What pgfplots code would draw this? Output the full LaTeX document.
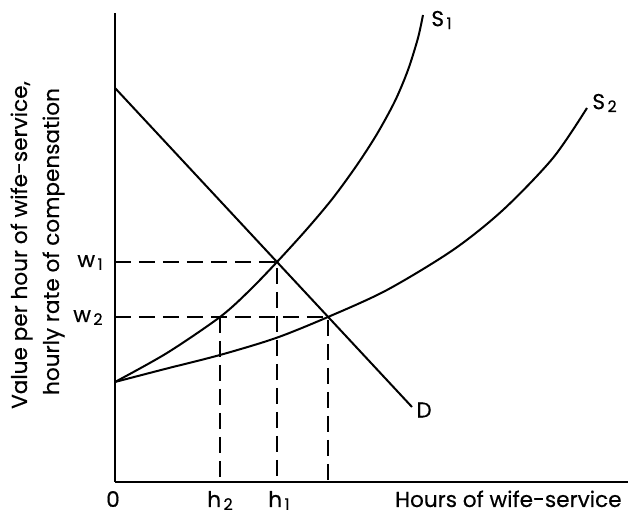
\documentclass[border=0pt]{standalone}
\usepackage{pgfplots}
\pgfplotsset{compat=1.18}
\usepackage{fontspec}
\setmainfont{Poppins}[FakeBold=0.4]
\newcommand{\sub}[1]{\kern1.2pt\raisebox{-0.25ex}{\fontsize{8}{8}\selectfont #1}}
\begin{document}
\fontsize{10.8}{12}\selectfont
\begin{tikzpicture}
\useasboundingbox (-57.5pt,-15.5pt) rectangle (257pt,241pt);
\begin{axis}[
  anchor=origin, at={(0pt,0pt)},
  x=5pt, y=5pt,
  xmin=0, xmax=51.3, ymin=0, ymax=46.9,
  axis x line*=bottom, axis y line*=left,
  axis line style={line width=1.1pt},
  xtick=\empty, ytick=\empty,
  clip=false,
]
% Demand
\addplot[black, line width=1pt] coordinates {(0,39.4) (29.7,7.5)};
% S1
\addplot[black, line width=1pt, smooth] coordinates {
  (0,10) (5.2,12.9) (10.5,16.5) (13.4,19.1) (16.2,22.0) (19.2,25.3) (21.8,28.4)
  (24.2,31.7) (26.2,34.8) (28.0,38.1) (29.3,41.2) (30.3,44.4) (30.8,46.7)};
% S2
\addplot[black, line width=1pt, smooth] coordinates {
  (0,10) (5,11.3) (10.5,12.7) (16.1,14.4) (21.3,16.5) (27.2,19.2) (33.8,23.2)
  (38.8,27.2) (43.8,32.4) (47.2,37.4)};
% dashed guides
\addplot[black, line width=0.9pt, dash pattern=on 8pt off 4pt] coordinates {(0,22.0) (16.2,22.0) (16.2,0)};
\addplot[black, line width=0.9pt, dash pattern=on 8pt off 4pt] coordinates {(0,16.5) (21.3,16.5) (21.3,0)};
\addplot[black, line width=0.9pt, dash pattern=on 8pt off 4pt] coordinates {(10.5,16.5) (10.5,0)};
% labels
\node[anchor=west, inner sep=0pt] at (axis cs:31.6,46.2) {S\sub{1}};
\node[anchor=west, inner sep=0pt] at (axis cs:47.7,37.9) {S\sub{2}};
\node[anchor=west, inner sep=0pt] at (axis cs:30.1,7.2) {D};
\node[anchor=base east, inner sep=0pt] at (axis cs:-1.2,21.5) {w\sub{1}};
\node[anchor=base east, inner sep=0pt] at (axis cs:-1.2,16.0) {w\sub{2}};
\node[anchor=base, inner sep=0pt] at (axis cs:-0.2,-2.5) {0};
\node[anchor=base, inner sep=0pt] at (axis cs:10.5,-2.5) {h\sub{2}};
\node[anchor=base, inner sep=0pt] at (axis cs:16.4,-2.5) {h\sub{1}};
\node[anchor=base east, inner sep=0pt] at (axis cs:50.7,-2.5) {Hours of wife-service};
\node[anchor=base, inner sep=0pt, rotate=90] at (axis cs:-8.8,23.7) {Value per hour of wife-service,};
\node[anchor=base, inner sep=0pt, rotate=90] at (axis cs:-5.6,24.05) {hourly rate of compensation};
\end{axis}
\end{tikzpicture}
\end{document}
